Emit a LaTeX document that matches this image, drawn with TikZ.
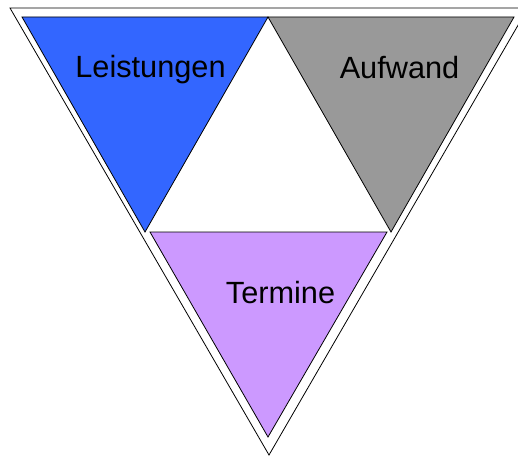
\documentclass[tikz,border=0pt]{standalone}
\usepackage{fontspec}
\setmainfont{Liberation Sans}
\usetikzlibrary{calc}
\definecolor{leistung}{RGB}{51,102,255}
\definecolor{aufwand}{RGB}{153,153,153}
\definecolor{termin}{RGB}{204,153,255}
\tikzset{
    dreieck/.style={draw=black, line width=0.8pt, line join=miter},
    beschriftung/.style={anchor=base, inner sep=0pt, font=\fontsize{30.7}{36}\selectfont}
}

\begin{document}
\begin{tikzpicture}[x=1pt, y=-1pt]

    \useasboundingbox (0,0) rectangle (518,457);
    \clip (0,0) rectangle (518,457);

    % outer frame (right corner runs off the page)
    \coordinate (oa) at (10,8);
    \coordinate (ob) at (528,8);
    \coordinate (oc) at (269,455);
    \draw[dreieck] (oa) -- (ob) -- (oc) -- cycle;

    % the three inner triangles
    \coordinate (top) at (268,17);
    \draw[dreieck, fill=leistung] (22,17) -- (top) -- (145,232) -- cycle;
    \draw[dreieck, fill=aufwand] (top) -- (514,17) -- (391,232) -- cycle;
    \draw[dreieck, fill=termin] (150,232) -- (387,232) -- (268,437) -- cycle;

    \node[beschriftung] (leistungen) at (150.5,78) {Leistungen};
    \node[beschriftung] (aufwand) at (399.5,78.3) {Aufwand};
    \node[beschriftung] (termine) at (280.5,303) {Termine};

\end{tikzpicture}
\end{document}
